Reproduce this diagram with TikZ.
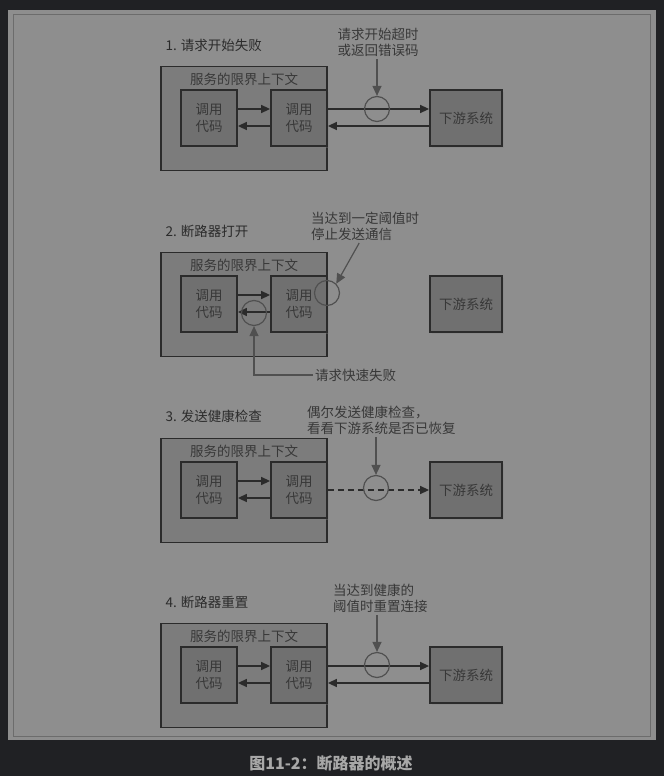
\documentclass[tikz,border=0pt]{standalone}
\usepackage{fontspec}
\setmainfont{Noto Sans CJK SC}
\usepackage{xcolor}
\usepackage{tikz}
\usetikzlibrary{positioning,calc,shadows,arrows.meta}

\definecolor{bgdark}{HTML}{202124}
\definecolor{panelgray}{HTML}{8E8E8E}
\definecolor{framegray}{HTML}{6C6C6C}
\definecolor{ctxgray}{HTML}{7C7C7C}
\definecolor{boxgray}{HTML}{707070}
\definecolor{inkdark}{HTML}{2B2B2B}
\definecolor{txtgray}{HTML}{383838}
\definecolor{notegray}{HTML}{505050}
\definecolor{capgray}{HTML}{A8A8A8}

\newcommand{\lblfont}{\fontsize{13.5}{16.5}\selectfont}

\tikzset{
  ctxbox/.style={draw=inkdark, line width=1.3pt, fill=ctxgray, minimum width=166pt, minimum height=104pt, inner sep=0pt},
  callbox/.style={draw=inkdark, line width=1.8pt, fill=boxgray, minimum width=56pt, minimum height=56pt, align=center, text=txtgray, font=\lblfont, inner sep=1pt,
    drop shadow={shadow xshift=2pt, shadow yshift=-2pt, opacity=0.35}},
  sysbox/.style={callbox, minimum width=72pt},
  flow/.style={draw=inkdark, line width=1.5pt, -{Triangle[length=9pt,width=8pt]}},
  probe/.style={circle, draw=notegray, line width=1.2pt, minimum size=25pt, inner sep=0pt},
  pointer/.style={draw=notegray, line width=1.2pt, -{Triangle[length=10pt,width=9pt]}},
  note/.style={align=left, text=txtgray, font=\lblfont, inner sep=2pt},
  steptitle/.style={anchor=west, text=inkdark, font=\lblfont}
}

\begin{document}
\begin{tikzpicture}[x=1pt, y=-1pt]
  \useasboundingbox (0,0) rectangle (664,776);

  % background
  \fill[bgdark] (0,0) rectangle (664,776);
  \fill[panelgray] (8,10) rectangle (656,740);
  \draw[framegray, line width=0.8pt] (13,14) rectangle (650,736);

  % common parts of the four steps
  \foreach \k/\dy in {1/0,2/186,3/372,4/557} {
    \node[ctxbox] (ctx\k) at (244,118.5+\dy) {};
    \node[text=txtgray, font=\lblfont] (ctxlbl\k) at (244,79+\dy) {服务的限界上下文};
    \node[callbox] (callA\k) at (209,118+\dy) {调用\\代码};
    \node[callbox] (callB\k) at (299,118+\dy) {调用\\代码};
    \node[sysbox] (sys\k) at (466,118+\dy) {下游系统};
    \draw[flow] ([yshift=9pt]callA\k.east) -- ([yshift=9pt]callB\k.west);
    \draw[flow] ([yshift=-8pt]callB\k.west) -- ([yshift=-8pt]callA\k.east);
  }

  % titles
  \node[steptitle] (step1) at (162,45) {1. 请求开始失败};
  \node[steptitle] (step2) at (162,231) {2. 断路器打开};
  \node[steptitle] (step3) at (162,416) {3. 发送健康检查};
  \node[steptitle] (step4) at (162,602) {4. 断路器重置};

  % step 1
  \draw[flow] ([yshift=9pt]callB1.east) -- ([yshift=9pt]sys1.west);
  \draw[flow] ([yshift=-8pt]sys1.west) -- ([yshift=-8pt]callB1.east);
  \node[probe] (gate1) at (377,109) {};
  \node[note, anchor=south] (why1) at (378,59) {请求开始超时\\或返回错误码};
  \draw[pointer] (gate1 |- why1.south) -- (gate1.north);

  % step 2
  \node[probe] (gate2) at (327,293) {};
  \node[probe] (shortcut) at (254,313) {};
  \node[note, anchor=south west] (why2) at (309,243) {当达到一定阈值时\\停止发送通信};
  \draw[pointer] ([xshift=-6pt]why2.south) -- (gate2.north east);
  \node[note, anchor=west] (fastfail) at (313,375) {请求快速失败};
  \draw[pointer] (fastfail.west) -| (shortcut.south);

  % step 3
  \draw[flow, dashed, dash pattern=on 6pt off 4pt] (callB3.east) -- (sys3.west);
  \node[probe] (gate3) at (376,488) {};
  \node[note, anchor=south west] (why3) at (305,437) {偶尔发送健康检查，\\看看下游系统是否已恢复};
  \draw[pointer] (gate3 |- why3.south) -- (gate3.north);

  % step 4
  \draw[flow] ([yshift=9pt]callB4.east) -- ([yshift=9pt]sys4.west);
  \draw[flow] ([yshift=-8pt]sys4.west) -- ([yshift=-8pt]callB4.east);
  \node[probe] (gate4) at (377,665) {};
  \node[note, anchor=south west] (why4) at (331,615) {当达到健康的\\阈值时重置连接};
  \draw[pointer] (gate4 |- why4.south) -- (gate4.north);

  % caption
  \node[text=capgray, font=\bfseries\fontsize{16}{19}\selectfont] (caption) at (331,763) {图11-2：断路器的概述};
\end{tikzpicture}
\end{document}
